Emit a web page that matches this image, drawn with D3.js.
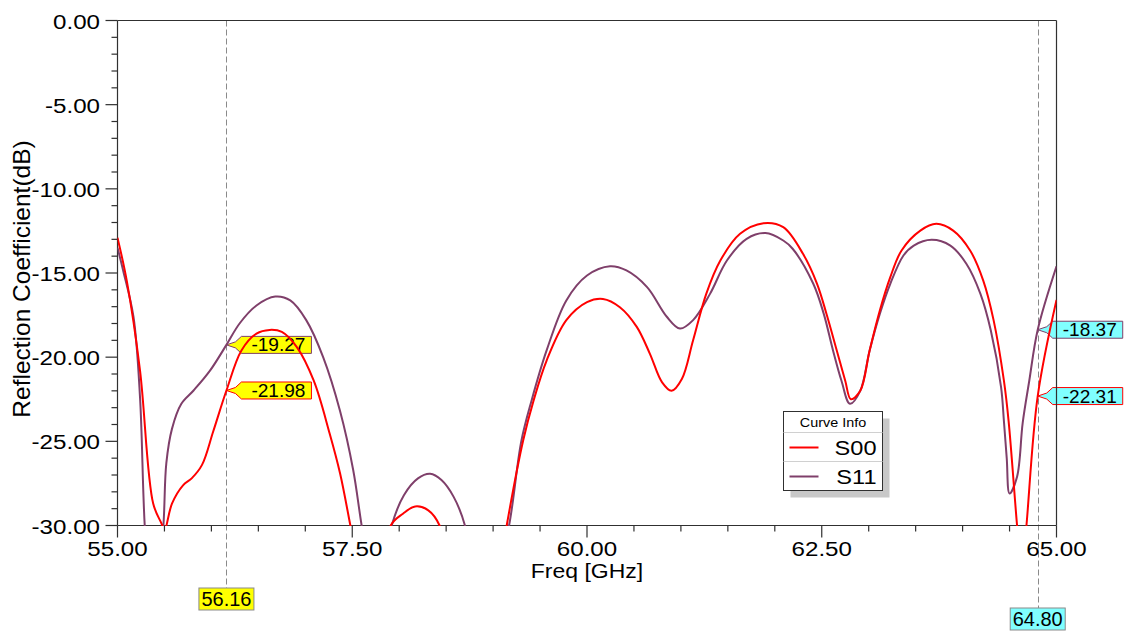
<!DOCTYPE html>
<html>
<head>
<meta charset="utf-8">
<script src="https://cdn.jsdelivr.net/npm/d3@7"></script>
<style>
    html, body { margin: 0; padding: 0; background: #fff; }
    svg { display: block; font-family: "Liberation Sans", Arial, sans-serif; }
</style>
</head>
<body>
<div id="chart"></div>
<script>
// S-parameter sweep, values (dB). Points under -30 are
// estimates; they get clipped by the plot frame anyway.
const freqS00 = [55.00, 55.10, 55.24, 55.38, 55.47, 55.50, 55.58, 55.70, 55.79, 55.90, 56.02, 56.16,
    56.32, 56.48, 56.62, 56.75, 56.91, 57.09, 57.26, 57.37, 57.48, 57.60, 57.70, 57.80, 57.91,
    58.04, 58.17, 58.31, 58.43, 58.60, 58.80, 59.00, 59.145, 59.32, 59.43, 59.57, 59.78, 60.00,
    60.17, 60.35, 60.53, 60.67, 60.80, 60.90, 61.01, 61.13, 61.27, 61.42, 61.63, 61.88, 62.09,
    62.30, 62.45, 62.55, 62.66, 62.75, 62.81, 62.91, 63.01, 63.12, 63.23, 63.35, 63.55, 63.72,
    63.90, 64.08, 64.22, 64.33, 64.44, 64.49, 64.58, 64.63, 64.68, 64.80, 65.00];
const valS00 = [-12.9, -15.5, -20.8, -28.7, -29.9, -30.3, -28.7, -27.6, -27.2, -26.4, -24.4, -21.98,
    -19.6, -18.6, -18.38, -18.5, -19.4, -21.4, -24.55, -26.9, -30.0, -33.5, -35.5, -34.0, -30.0,
    -29.3, -28.87, -29.1, -30.0, -34.5, -37.0, -35.0, -30.0, -24.95, -22.6, -20.2, -17.8, -16.73,
    -16.54, -17.03, -18.2, -19.8, -21.5, -22.0, -21.3, -19.0, -16.24, -14.26, -12.67, -12.04, -12.28,
    -13.86, -15.64, -17.42, -19.6, -21.4, -22.5, -22.0, -19.6, -17.2, -15.25, -13.66, -12.48, -12.08,
    -12.48, -13.66, -15.45, -17.8, -21.4, -23.8, -30.0, -33.0, -30.0, -22.31, -16.6];

const freqS11 = [55.00, 55.06, 55.17, 55.24, 55.29, 55.36, 55.44, 55.49, 55.52, 55.58, 55.68, 55.81,
    55.985, 56.16, 56.30, 56.48, 56.68, 56.84, 57.01, 57.19, 57.37, 57.51, 57.60, 57.75, 57.92,
    58.05, 58.20, 58.33, 58.45, 58.58, 58.70, 58.85, 59.00, 59.17, 59.30, 59.41, 59.57, 59.78,
    60.00, 60.245, 60.42, 60.64, 60.85, 60.99, 61.13, 61.31, 61.49, 61.70, 61.90, 62.09, 62.19,
    62.41, 62.52, 62.62, 62.71, 62.80, 62.91, 63.01, 63.12, 63.23, 63.37, 63.48, 63.67, 63.87,
    64.04, 64.19, 64.30, 64.41, 64.44, 64.47, 64.50, 64.58, 64.64, 64.71, 64.80, 65.00];
const valS11 = [-13.5, -14.85, -17.6, -22.4, -30.0, -35.0, -33.0, -29.9, -26.3, -24.26, -22.77, -21.98,
    -20.8, -19.27, -18.0, -16.93, -16.4, -16.63, -17.8, -20.0, -23.2, -26.7, -30.0, -35.0, -30.0,
    -28.2, -27.2, -26.93, -27.3, -28.3, -30.0, -35.0, -34.0, -30.0, -25.0, -22.57, -19.6, -16.63,
    -15.15, -14.6, -14.85, -15.84, -17.6, -18.3, -17.8, -16.24, -14.26, -12.97, -12.63, -13.07, -13.56,
    -15.64, -17.4, -19.6, -21.4, -22.77, -22.0, -19.6, -17.4, -15.64, -13.96, -13.37, -13.03, -13.37,
    -14.45, -16.24, -18.4, -21.8, -23.8, -26.0, -28.1, -27.1, -23.9, -21.4, -18.37, -14.6];

const seriesNames = ["S00", "S11"];
const seriesColors = ["#ff0000", "#7f3f6a"];

// Marker readouts shown in the boxes
const markerFreqs = [56.16, 64.80];
const markerS00 = [-21.98, -22.31];
const markerS11 = [-19.27, -18.37];
const markerFills = ["#ffff00", "#80ffff"];

const xTicksMajor = [55, 57.5, 60, 62.5, 65];
const yTicksMajor = [0, -5, -10, -15, -20, -25, -30];

const W = 1126, H = 633;
const FONT_STRETCH = 1.15;

const svg = d3.select("#chart").append("svg")
    .attr("width", W).attr("height", H);

const x = d3.scaleLinear().domain([55, 65]).range([117.5, 1056.5]);
const y = d3.scaleLinear().domain([-30, 0]).range([525.5, 20.5]);
// plain hyphen minus, like the original readouts
const fmt = (v) => d3.format(".2f")(v).replace("\u2212", "-");

// horizontally stretched text (the capture is wider than plain Arial)
function label(g, str, px, py, size, anchor, sx = FONT_STRETCH) {
    return g.append("text")
        .attr("transform", `translate(${px},${py}) scale(${sx},1)`)
        .attr("text-anchor", anchor || "start")
        .attr("font-size", size)
        .attr("fill", "#000")
        .text(str);
}

svg.append("defs").append("clipPath").attr("id", "plotClip")
    .append("rect")
    .attr("x", x(55)).attr("y", y(0) - 1)
    .attr("width", x(65) - x(55)).attr("height", y(-30) - y(0) + 1.5);

// marker dashed verticals
const gMarkers = svg.append("g");
const markerBoxY = [588, 608];
markerFreqs.forEach((f, i) => {
    gMarkers.append("line")
        .attr("x1", Math.round(x(f)) + 0.5).attr("x2", Math.round(x(f)) + 0.5)
        .attr("y1", y(0)).attr("y2", markerBoxY[i])
        .attr("stroke", "#8a8a8a").attr("stroke-width", 1)
        .attr("stroke-dasharray", "6,3");
});

// frame + ticks
const gAxes = svg.append("g").attr("stroke", "#303030").attr("stroke-width", 1.2).attr("fill", "none");
gAxes.append("line").attr("x1", x(55)).attr("x2", x(65)).attr("y1", y(0)).attr("y2", y(0));
gAxes.append("line").attr("x1", x(55)).attr("x2", x(65)).attr("y1", y(-30)).attr("y2", y(-30));
gAxes.append("line").attr("x1", x(55)).attr("x2", x(55)).attr("y1", y(0)).attr("y2", y(-30));
gAxes.append("line").attr("x1", x(65)).attr("x2", x(65)).attr("y1", y(0)).attr("y2", y(-30));

d3.range(55, 65.001, 0.5).forEach((f) => {
    const major = xTicksMajor.some((m) => Math.abs(m - f) < 1e-6);
    gAxes.append("line")
        .attr("x1", x(f)).attr("x2", x(f))
        .attr("y1", y(-30)).attr("y2", y(-30) + (major ? 12 : 6));
});
d3.range(0, -30.001, -1).forEach((v) => {
    const major = yTicksMajor.includes(v);
    gAxes.append("line")
        .attr("x1", x(55) - (major ? 12 : 6)).attr("x2", x(55))
        .attr("y1", y(v)).attr("y2", y(v));
});

const gText = svg.append("g");
yTicksMajor.forEach((v) => label(gText, fmt(v), 100, y(v) + 8, 21, "end"));
xTicksMajor.forEach((f) => label(gText, fmt(f), x(f), 556, 21, "middle"));
label(gText, "Freq [GHz]", 587, 578, 20, "middle");
gText.append("text")
    .attr("transform", "translate(30,279) rotate(-90)")
    .attr("text-anchor", "middle")
    .attr("font-size", 24.5)
    .text("Reflection Coefficient(dB)");

// curves
const line = d3.line()
    .x((d) => x(d[0]))
    .y((d) => y(d[1]))
    .curve(d3.curveCatmullRom.alpha(0.5));

const curves = [
    d3.zip(freqS11, valS11),
    d3.zip(freqS00, valS00),
];
const curveColors = [seriesColors[1], seriesColors[0]];

svg.append("g").attr("clip-path", "url(#plotClip)")
    .selectAll("path")
    .data(curves)
    .join("path")
    .attr("d", line)
    .attr("fill", "none")
    .attr("stroke", (_, i) => curveColors[i])
    .attr("stroke-width", 2)
    .attr("stroke-linejoin", "round");

// y readout flags, pointing at the curve crossing
function flag(f, v, color, fill) {
    const tx = x(f), ty = y(v);
    const bx = tx + 15, w = 70, h = 17;
    const top = ty - h / 2, bot = ty + h / 2;
    const pts = [[tx, ty], [tx + 9, ty - 3], [bx, top], [bx + w, top], [bx + w, bot], [bx, bot], [tx + 9, ty + 3]];
    gMarkers.append("polygon")
        .attr("points", pts.map((p) => p.join(",")).join(" "))
        .attr("fill", fill).attr("stroke", color).attr("stroke-width", 1);
    label(gMarkers, fmt(v), bx + 10, ty + 6.5, 18, "start", 1.06);
}
markerFreqs.forEach((f, i) => {
    flag(f, markerS11[i], seriesColors[1], markerFills[i]);
    flag(f, markerS00[i], seriesColors[0], markerFills[i]);
});

// x readout boxes under the axis
markerFreqs.forEach((f, i) => {
    const cx = x(f);
    gMarkers.append("rect")
        .attr("x", cx - 27.5).attr("y", markerBoxY[i])
        .attr("width", 55).attr("height", 22)
        .attr("fill", markerFills[i]).attr("stroke", "#8a8a8a").attr("stroke-width", 1);
    label(gMarkers, fmt(f), cx, markerBoxY[i] + 18, 20, "middle", 1.0);
});

// legend
const lg = svg.append("g").attr("transform", "translate(783.5,411.5)");
const lw = 99, lh = 79;
lg.append("rect").attr("x", 7).attr("y", 7).attr("width", lw).attr("height", lh).attr("fill", "#c8c8c8");
lg.append("rect").attr("width", lw).attr("height", lh).attr("fill", "#fff").attr("stroke", "#303030").attr("stroke-width", 1);
label(lg, "Curve Info", lw / 2, 15, 12.5, "middle");
lg.append("line").attr("x1", 0).attr("x2", lw).attr("y1", 21).attr("y2", 21).attr("stroke", "#d0d0d0");
lg.append("line").attr("x1", 0).attr("x2", lw).attr("y1", 50).attr("y2", 50).attr("stroke", "#d0d0d0");
seriesNames.forEach((name, i) => {
    const cy = 36 + i * 29;
    lg.append("line").attr("x1", 6).attr("x2", 35).attr("y1", cy).attr("y2", cy)
        .attr("stroke", seriesColors[i]).attr("stroke-width", 2);
    label(lg, name, 93, cy + 7.5, 20.5, "end");
});
</script>
</body>
</html>
